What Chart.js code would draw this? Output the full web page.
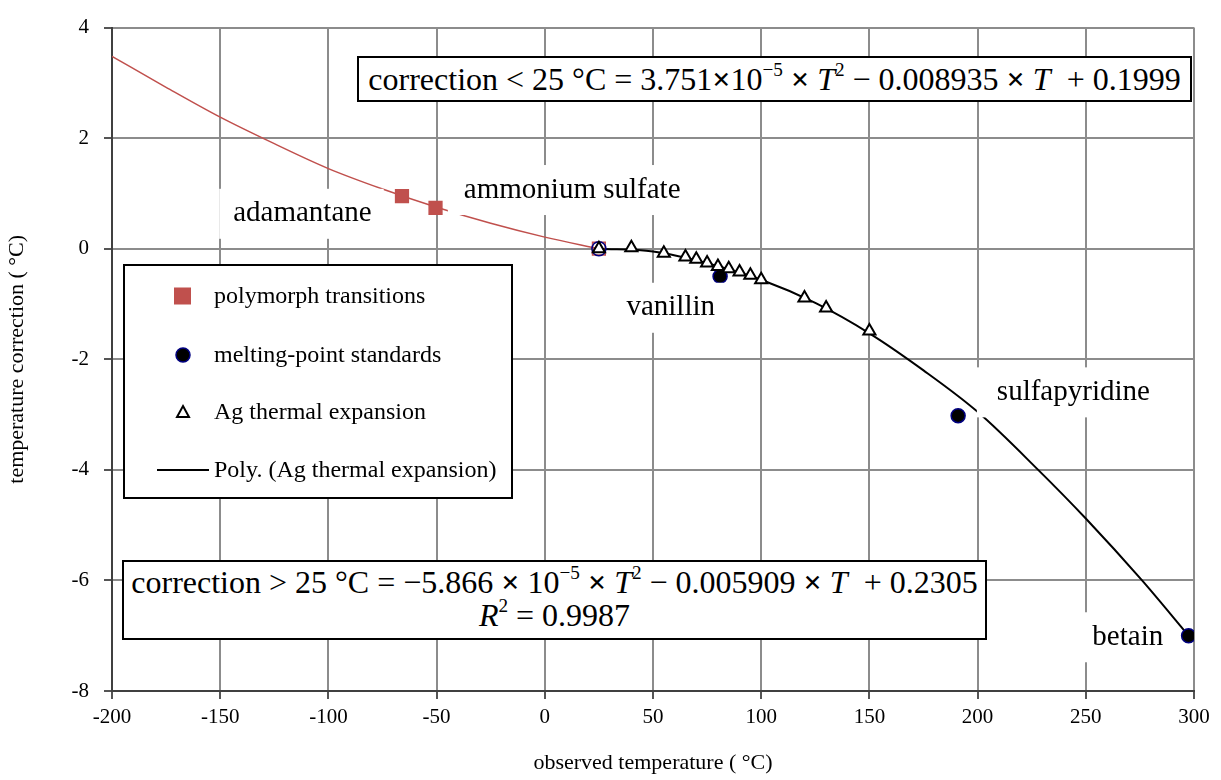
<!DOCTYPE html>
<html>
<head>
<meta charset="utf-8">
<script src="https://cdn.jsdelivr.net/npm/chart.js@4"></script>
<style>
  body { margin: 0; background: #fff; }
  #wrap { position: relative; width: 1221px; height: 780px; }
  .eq {
    position: absolute; box-sizing: border-box; border: 2px solid #000; background: #fff;
    font-family: "Liberation Serif", "Times New Roman", serif; color: #000;
    text-align: center; white-space: nowrap;
  }
  .eq sup { font-size: 60%; vertical-align: 0.75em; line-height: 0; }
  .eq i { font-style: italic; }
</style>
</head>
<body>
<div id="wrap">
  <canvas id="grafica" width="1221" height="780"></canvas>
  <div class="eq" style="left:357px; top:56px; width:835px; height:46px; font-size:32px; line-height:42px;">
    correction &lt; 25 °C = 3.751<b>×</b>10<sup>−5</sup> <b>×</b> <i>T</i><sup>2</sup> − 0.008935 <b>×</b> <i>T</i> &nbsp;+ 0.1999
  </div>
  <div class="eq" style="left:122px; top:560px; width:865px; height:80px; font-size:32px; line-height:33px; padding-top:4px;">
    correction &gt; 25 °C = −5.866 <b>×</b> 10<sup>−5</sup> <b>×</b> <i>T</i><sup>2</sup> − 0.005909 <b>×</b> <i>T</i> &nbsp;+ 0.2305<br>
    <i>R</i><sup>2</sup> = 0.9987
  </div>
</div>
<script>
// datos
const polyT = [-66, -50.5, 25];
const polyC = [0.95, 0.74, 0];

const mpT = [25, 81, 191, 297.5];
const mpC = [0, -0.5, -3.02, -7.0];

const agT = [25, 40, 55, 65, 70, 75, 80, 85, 90, 95, 100, 120, 130, 150];
const agC = [0, 0.02, -0.08, -0.15, -0.19, -0.26, -0.32, -0.36, -0.42, -0.48, -0.56, -0.89, -1.07, -1.49];

// curvas de ajuste
const lowFitT = [-200, -175, -150, -125, -100, -75, -50, -25, 0, 25];
const lowFitC = [3.48, 2.92, 2.38, 1.9, 1.45, 1.08, 0.75, 0.46, 0.21, 0];

const highFitT = [25, 50, 75, 100, 125, 150, 175, 200, 228, 250, 276, 297.5];
const highFitC = [0, -0.05, -0.26, -0.56, -0.98, -1.53, -2.2, -2.95, -4.0, -4.88, -6.0, -7.0];

const xTicks = [-200, -150, -100, -50, 0, 50, 100, 150, 200, 250, 300];
const yTicks = [4, 2, 0, -2, -4, -6, -8];

const legendLabels = ['polymorph transitions', 'melting-point standards', 'Ag thermal expansion', 'Poly. (Ag thermal expansion)'];

const pares = (xs, ys) => xs.map((x, i) => ({ x: x, y: ys[i] }));

const serif = '"Liberation Serif", "Times New Roman", serif';
const rojo = '#C0504D';

// etiquetas de compuestos: posicion en unidades de datos
const etiquetas = [
  { text: 'adamantane', x: -112, y: 0.65, align: 'center', pl: 14, pr: 12 },
  { text: 'ammonium sulfate', x: -37.4, y: 1.08, align: 'left', pl: 16, pr: 14 },
  { text: 'vanillin', x: 58.2, y: -1.05, align: 'center', pl: 14, pr: 14 },
  { text: 'sulfapyridine', x: 208.9, y: -2.58, align: 'left', pl: 20, pr: 14 },
  { text: 'betain', x: 269.4, y: -7.01, align: 'center', pl: 14, pr: 2 }
];

const pluginEtiquetas = {
  id: 'etiquetas',
  afterDatasetsDraw(chart) {
    const ctx = chart.ctx;
    const sx = chart.scales.x, sy = chart.scales.y;
    ctx.save();
    ctx.font = '29px ' + serif;
    ctx.textBaseline = 'middle';
    etiquetas.forEach(e => {
      const px = sx.getPixelForValue(e.x), py = sy.getPixelForValue(e.y);
      const w = ctx.measureText(e.text).width;
      const left = e.align === 'left' ? px : px - w / 2;
      ctx.fillStyle = '#fff';
      ctx.fillRect(left - e.pl, py - 24, w + e.pl + e.pr, 50);
      ctx.fillStyle = '#000';
      ctx.textAlign = 'left';
      ctx.fillText(e.text, left, py + 1);
    });

    // leyenda
    const lx = 124, ly = 265, lw = 388, lh = 233;
    ctx.fillStyle = '#fff';
    ctx.fillRect(lx, ly, lw, lh);
    ctx.strokeStyle = '#000';
    ctx.lineWidth = 2;
    ctx.strokeRect(lx, ly, lw, lh);
    const filas = [296, 355, 412, 470];
    ctx.font = '24px ' + serif;
    ctx.textAlign = 'left';
    legendLabels.forEach((t, i) => {
      ctx.fillStyle = '#000';
      ctx.fillText(t, 214, filas[i] + 1);
    });
    // simbolos
    ctx.fillStyle = rojo;
    ctx.fillRect(174, filas[0] - 8.5, 17, 17);
    ctx.beginPath();
    ctx.arc(183, filas[1], 7, 0, Math.PI * 2);
    ctx.fillStyle = '#000';
    ctx.fill();
    ctx.strokeStyle = '#000080';
    ctx.lineWidth = 1.5;
    ctx.stroke();
    ctx.beginPath();
    ctx.moveTo(183, filas[2] - 6);
    ctx.lineTo(189, filas[2] + 5);
    ctx.lineTo(177, filas[2] + 5);
    ctx.closePath();
    ctx.fillStyle = '#fff';
    ctx.fill();
    ctx.strokeStyle = '#000';
    ctx.lineWidth = 2;
    ctx.stroke();
    ctx.beginPath();
    ctx.moveTo(157, filas[3]);
    ctx.lineTo(209, filas[3]);
    ctx.lineWidth = 2;
    ctx.stroke();
    ctx.restore();
  }
};

new Chart(document.getElementById('grafica'), {
  type: 'scatter',
  data: {
    datasets: [
      {
        label: legendLabels[2],
        data: pares(agT, agC),
        pointStyle: 'triangle',
        pointRadius: 7,
        pointBackgroundColor: '#fff',
        pointBorderColor: '#000',
        pointBorderWidth: 2,
        showLine: false,
        order: 1
      },
      {
        label: legendLabels[1],
        data: pares(mpT, mpC),
        pointStyle: 'circle',
        pointRadius: 7,
        pointBackgroundColor: ['rgba(0,0,0,0)', '#000', '#000', '#000'],
        pointBorderColor: '#000080',
        pointBorderWidth: 1.5,
        showLine: false,
        order: 2
      },
      {
        label: legendLabels[0],
        data: pares(polyT, polyC),
        pointStyle: 'rect',
        pointRadius: 9,
        pointBackgroundColor: [rojo, rojo, 'rgba(0,0,0,0)'],
        pointBorderColor: rojo,
        pointBorderWidth: 1.5,
        showLine: false,
        order: 3
      },
      {
        label: 'fit < 25',
        data: pares(lowFitT, lowFitC),
        showLine: true,
        borderColor: rojo,
        borderWidth: 1.5,
        pointRadius: 0,
        cubicInterpolationMode: 'monotone',
        order: 10
      },
      {
        label: legendLabels[3],
        data: pares(highFitT, highFitC),
        showLine: true,
        borderColor: '#000',
        borderWidth: 2,
        pointRadius: 0,
        cubicInterpolationMode: 'monotone',
        order: 10
      }
    ]
  },
  options: {
    responsive: false,
    animation: false,
    layout: { padding: { top: 19, right: 27, left: 0, bottom: 0 } },
    plugins: {
      legend: { display: false },
      tooltip: { enabled: false }
    },
    scales: {
      x: {
        type: 'linear',
        min: -200,
        max: 300,
        afterBuildTicks: s => { s.ticks = xTicks.map(v => ({ value: v })); },
        afterFit: s => { s.height = 89; },
        grid: { color: '#8c8c8c', lineWidth: 2, tickLength: 8, tickColor: '#555' },
        border: { color: '#404040', width: 2 },
        ticks: { color: '#000', font: { family: serif, size: 21 }, padding: 6, maxRotation: 0 },
        title: { display: true, text: 'observed temperature ( °C)', color: '#000', font: { family: serif, size: 22 }, padding: { top: 10 } }
      },
      y: {
        type: 'linear',
        min: -8,
        max: 4,
        afterBuildTicks: s => { s.ticks = yTicks.map(v => ({ value: v })); },
        afterFit: s => { s.width = 112; },
        grid: { color: '#8c8c8c', lineWidth: 2, tickLength: 8, tickColor: '#555' },
        border: { color: '#404040', width: 2 },
        ticks: { color: '#000', font: { family: serif, size: 21 }, padding: 15 },
        title: { display: true, text: 'temperature correction ( °C)', color: '#000', font: { family: serif, size: 22 }, padding: { bottom: 2 } }
      }
    }
  },
  plugins: [pluginEtiquetas]
});
</script>
</body>
</html>
